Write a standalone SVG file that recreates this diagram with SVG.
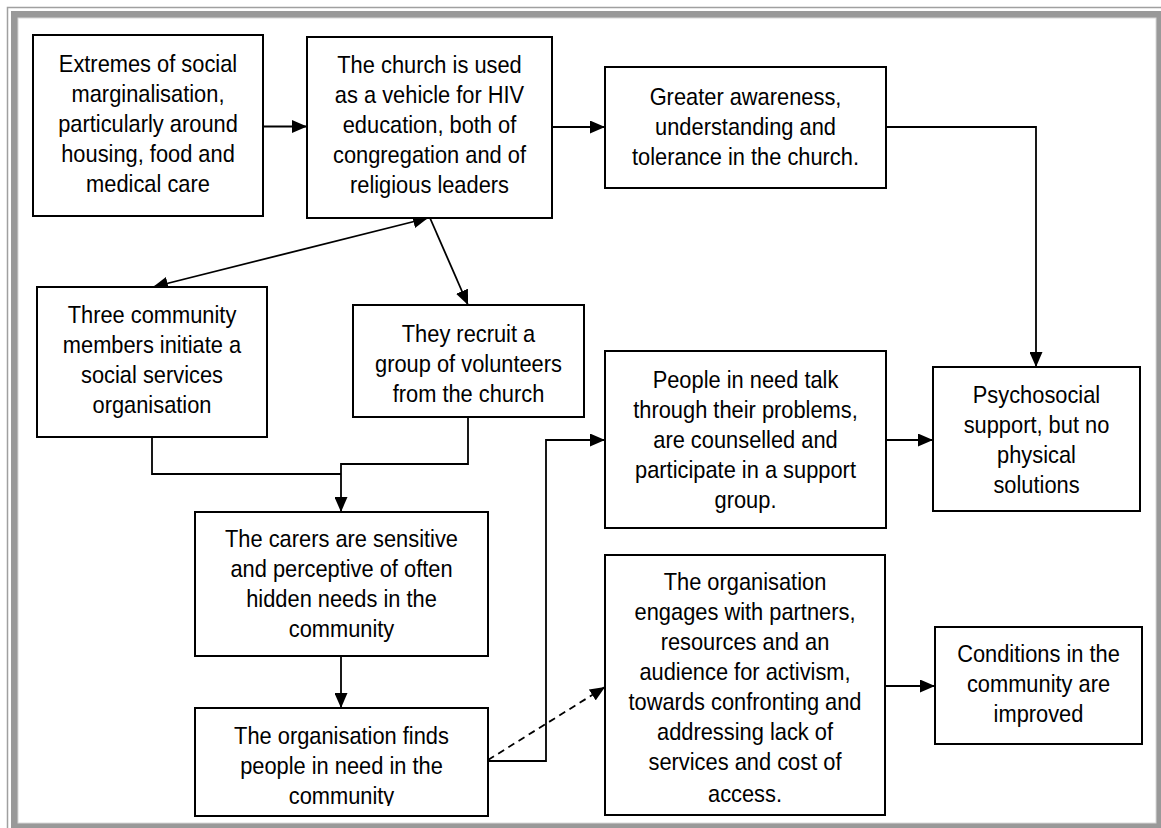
<svg xmlns="http://www.w3.org/2000/svg" width="1161" height="828" viewBox="0 0 1161 828">
<style>
.box{fill:#fff;stroke:#000;stroke-width:2}
.t{font-family:"Liberation Sans Narrow","Arial Narrow","Liberation Sans",Arial,sans-serif;font-size:24px;fill:#000;text-anchor:middle}
.c{fill:none;stroke:#000;stroke-width:1.8}
.d{stroke-dasharray:7,5}
</style>
<defs>
<marker id="ah" markerUnits="userSpaceOnUse" markerWidth="15" markerHeight="13" viewBox="0 0 15 13" refX="15" refY="6.5" orient="auto-start-reverse">
<path d="M0,0 L15,6.5 L0,13 z" fill="#000"/>
</marker>
<clipPath id="clipI"><rect x="195" y="708" width="293" height="98"/></clipPath>
<clipPath id="clipJ"><rect x="605" y="555" width="280" height="247"/></clipPath>
</defs>
<g id="frame">
<rect x="0" y="0" width="1161" height="828" fill="#fff"/>
<path d="M7.5,828 V7.5 H1161" fill="none" stroke="#a0a0a0" stroke-width="1.5"/>
<rect x="11" y="11" width="1150" height="817" fill="#999"/>
<rect x="18" y="18" width="1138" height="805" fill="#fff" stroke="#d8d8d8" stroke-width="1"/>
</g>
<g id="connectors">
<path class="c" d="M263,126.5 L307,126.5" marker-end="url(#ah)"/>
<path class="c" d="M552,127 L605,127" marker-end="url(#ah)"/>
<path class="c" d="M886,127 H1036 V367" marker-end="url(#ah)"/>
<path class="c" d="M428,218 L153,287" marker-start="url(#ah)" marker-end="url(#ah)"/>
<path class="c" d="M430,218 L468,305" marker-end="url(#ah)"/>
<path class="c" d="M152,437 V474 H341"/>
<path class="c" d="M468,417 V464 H341 V512" marker-end="url(#ah)"/>
<path class="c" d="M341,656 V708" marker-end="url(#ah)"/>
<path class="c" d="M488,761 H546 V440 H605" marker-end="url(#ah)"/>
<path class="c d" d="M488,760 L605,687" marker-end="url(#ah)"/>
<path class="c" d="M886,440 H933" marker-end="url(#ah)"/>
<path class="c" d="M885,686 H935" marker-end="url(#ah)"/>
</g>
<g id="nodeA">
<rect class="box" x="33" y="35" width="230" height="181"/>
<g transform="translate(148,0) scale(0.91,1)">
<text class="t" x="0" y="72">Extremes of social</text>
<text class="t" x="0" y="102">marginalisation,</text>
<text class="t" x="0" y="132">particularly around</text>
<text class="t" x="0" y="162">housing, food and</text>
<text class="t" x="0" y="192">medical care</text>
</g>
</g>
<g id="nodeB">
<rect class="box" x="307" y="37" width="245" height="181"/>
<g transform="translate(429.5,0) scale(0.91,1)">
<text class="t" x="0" y="73">The church is used</text>
<text class="t" x="0" y="103">as a vehicle for HIV</text>
<text class="t" x="0" y="133">education, both of</text>
<text class="t" x="0" y="163">congregation and of</text>
<text class="t" x="0" y="193">religious leaders</text>
</g>
</g>
<g id="nodeC">
<rect class="box" x="605" y="67" width="281" height="121"/>
<g transform="translate(745.5,0) scale(0.91,1)">
<text class="t" x="0" y="105">Greater awareness,</text>
<text class="t" x="0" y="135">understanding and</text>
<text class="t" x="0" y="165">tolerance in the church.</text>
</g>
</g>
<g id="nodeE">
<rect class="box" x="37" y="287" width="230" height="150"/>
<g transform="translate(152,0) scale(0.91,1)">
<text class="t" x="0" y="323">Three community</text>
<text class="t" x="0" y="353">members initiate a</text>
<text class="t" x="0" y="383">social services</text>
<text class="t" x="0" y="413">organisation</text>
</g>
</g>
<g id="nodeF">
<rect class="box" x="353" y="305" width="231" height="112"/>
<g transform="translate(468.5,0) scale(0.91,1)">
<text class="t" x="0" y="342">They recruit a</text>
<text class="t" x="0" y="372">group of volunteers</text>
<text class="t" x="0" y="402">from the church</text>
</g>
</g>
<g id="nodeG">
<rect class="box" x="605" y="351" width="281" height="177"/>
<g transform="translate(745.5,0) scale(0.91,1)">
<text class="t" x="0" y="388">People in need talk</text>
<text class="t" x="0" y="418">through their problems,</text>
<text class="t" x="0" y="448">are counselled and</text>
<text class="t" x="0" y="478">participate in a support</text>
<text class="t" x="0" y="508">group.</text>
</g>
</g>
<g id="nodeD">
<rect class="box" x="933" y="367" width="207" height="144"/>
<g transform="translate(1036.5,0) scale(0.91,1)">
<text class="t" x="0" y="403">Psychosocial</text>
<text class="t" x="0" y="433">support, but no</text>
<text class="t" x="0" y="463">physical</text>
<text class="t" x="0" y="493">solutions</text>
</g>
</g>
<g id="nodeH">
<rect class="box" x="195" y="512" width="293" height="144"/>
<g transform="translate(341.5,0) scale(0.91,1)">
<text class="t" x="0" y="547">The carers are sensitive</text>
<text class="t" x="0" y="577">and perceptive of often</text>
<text class="t" x="0" y="607">hidden needs in the</text>
<text class="t" x="0" y="637">community</text>
</g>
</g>
<g id="nodeI">
<rect class="box" x="195" y="708" width="293" height="108"/>
<g clip-path="url(#clipI)">
<g transform="translate(341.5,0) scale(0.91,1)">
<text class="t" x="0" y="744">The organisation finds</text>
<text class="t" x="0" y="774">people in need in the</text>
<text class="t" x="0" y="804">community</text>
</g>
</g>
</g>
<g id="nodeJ">
<rect class="box" x="605" y="555" width="280" height="260"/>
<g clip-path="url(#clipJ)">
<g transform="translate(745,0) scale(0.91,1)">
<text class="t" x="0" y="590">The organisation</text>
<text class="t" x="0" y="620">engages with partners,</text>
<text class="t" x="0" y="650">resources and an</text>
<text class="t" x="0" y="680">audience for activism,</text>
<text class="t" x="0" y="710">towards confronting and</text>
<text class="t" x="0" y="740">addressing lack of</text>
<text class="t" x="0" y="770">services and cost of</text>
<text class="t" x="0" y="802">access.</text>
</g>
</g>
</g>
<g id="nodeK">
<rect class="box" x="935" y="627" width="207" height="117"/>
<g transform="translate(1038.5,0) scale(0.91,1)">
<text class="t" x="0" y="662">Conditions in the</text>
<text class="t" x="0" y="692">community are</text>
<text class="t" x="0" y="722">improved</text>
</g>
</g>
</svg>
